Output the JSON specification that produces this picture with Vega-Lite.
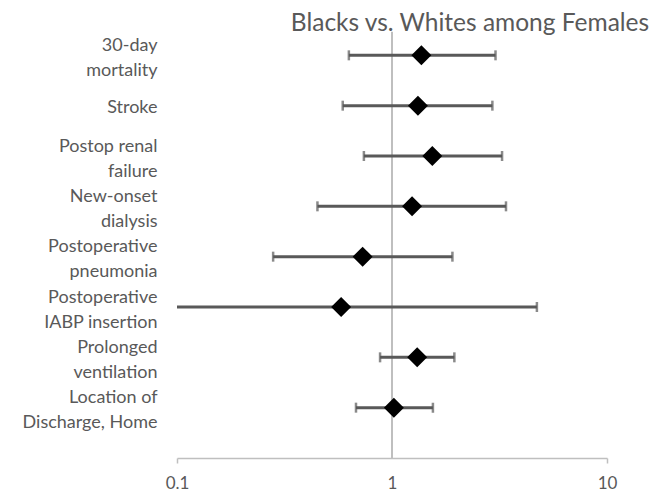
{
  "$schema": "https://vega.github.io/schema/vega-lite/v6.json",
  "width": 430,
  "height": 453,
  "autosize": {"type": "none"},
  "padding": {"left": 177, "top": 5, "right": 59, "bottom": 39},
  "background": "white",
  "config": {
    "view": {"stroke": null},
    "font": "Lato",
    "axis": {"grid": false}
  },
  "title": {
    "text": "Blacks vs. Whites among Females",
    "font": "Lato",
    "fontSize": 24.5,
    "fontWeight": "normal",
    "color": "#595959",
    "anchor": "middle",
    "baseline": "alphabetic",
    "dx": 78,
    "dy": 54
  },
  "datasets": {
    "rows": [
      {"label": "30-day\nmortality", "ratio": 1.37, "lo": 0.63, "hi": 3.03},
      {"label": "Stroke", "ratio": 1.32, "lo": 0.59, "hi": 2.93},
      {"label": "Postop renal\nfailure", "ratio": 1.54, "lo": 0.74, "hi": 3.25},
      {"label": "New-onset\ndialysis", "ratio": 1.24, "lo": 0.45, "hi": 3.39},
      {"label": "Postoperative\npneumonia", "ratio": 0.73, "lo": 0.28, "hi": 1.91},
      {"label": "Postoperative\nIABP insertion", "ratio": 0.58, "lo": 0.07, "hi": 4.72},
      {"label": "Prolonged\nventilation", "ratio": 1.31, "lo": 0.88, "hi": 1.95},
      {"label": "Location of\nDischarge, Home", "ratio": 1.02, "lo": 0.68, "hi": 1.55}
    ],
    "refline": [{"x": 1, "y0": 0, "y1": 8.47}]
  },
  "layer": [
    {
      "data": {"name": "refline"},
      "mark": {"type": "rule", "color": "#bfbfbf", "strokeWidth": 2},
      "encoding": {
        "x": {
          "field": "x", "type": "quantitative", "title": null,
          "scale": {"type": "log", "domain": [0.1, 10]},
          "axis": {
            "values": [0.1, 1, 10],
            "format": "~g",
            "domainColor": "#bfbfbf",
            "domainWidth": 1.5,
            "tickColor": "#bfbfbf",
            "tickWidth": 1.5,
            "tickSize": 5,
            "tickOpacity": {"condition": {"test": "datum.value == 1", "value": 0}, "value": 1},
            "labelColor": "#595959",
            "labelFontSize": 17,
            "labelPadding": 12,
            "labelFlush": false
          }
        },
        "y": {"field": "y0", "type": "quantitative", "scale": {"domain": [0, 9]}, "axis": null},
        "y2": {"field": "y1"}
      }
    },
    {
      "data": {"name": "rows"},
      "encoding": {
        "y": {
          "field": "label", "type": "nominal", "sort": null, "title": null,
          "scale": {"type": "point", "padding": 1},
          "axis": {
            "orient": "left",
            "labelExpr": "split(datum.value, '\\n')",
            "ticks": false,
            "domain": false,
            "labelPadding": 20,
            "labelFontSize": 18,
            "labelColor": "#595959",
            "labelLineHeight": 25,
            "labelAlign": "right",
            "labelBaseline": "middle",
            "labelOffset": {"condition": {"test": "indexof(datum.value, '\\n') >= 0", "value": -10}, "value": 1.5},
            "labelLimit": 300
          }
        }
      },
      "layer": [
        {
          "mark": {"type": "rule", "color": "#595959", "strokeWidth": 3, "clip": true},
          "encoding": {
            "x": {"field": "lo", "type": "quantitative", "title": null, "scale": {"type": "log", "domain": [0.1, 10]}},
            "x2": {"field": "hi"}
          }
        },
        {
          "mark": {"type": "tick", "color": "#595959", "size": 10, "thickness": 2.5, "clip": true},
          "encoding": {
            "x": {"field": "lo", "type": "quantitative", "title": null, "scale": {"type": "log", "domain": [0.1, 10]}}
          }
        },
        {
          "mark": {"type": "tick", "color": "#595959", "size": 10, "thickness": 2.5, "clip": true},
          "encoding": {
            "x": {"field": "hi", "type": "quantitative", "title": null, "scale": {"type": "log", "domain": [0.1, 10]}}
          }
        },
        {
          "mark": {"type": "point", "shape": "diamond", "filled": true, "color": "black", "opacity": 1, "size": 400},
          "encoding": {
            "x": {"field": "ratio", "type": "quantitative", "title": null, "scale": {"type": "log", "domain": [0.1, 10]}}
          }
        }
      ]
    }
  ],
  "resolve": {"scale": {"y": "independent"}}
}
